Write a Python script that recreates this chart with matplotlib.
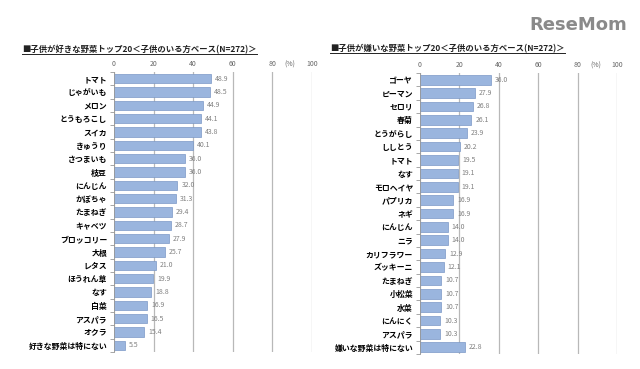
import matplotlib.pyplot as plt
from matplotlib.transforms import blended_transform_factory

plt.rcParams['font.family'] = ['Noto Sans CJK JP', 'DejaVu Sans']

like_names = ["トマト", "じゃがいも", "メロン", "とうもろこし", "スイカ", "きゅうり",
              "さつまいも", "枝豆", "にんじん", "かぼちゃ", "たまねぎ", "キャベツ",
              "ブロッコリー", "大根", "レタス", "ほうれん草", "なす", "白菜",
              "アスパラ", "オクラ", "好きな野菜は特にない"]
like_vals = [48.9, 48.5, 44.9, 44.1, 43.8, 40.1, 36.0, 36.0, 32.0, 31.3, 29.4,
             28.7, 27.9, 25.7, 21.0, 19.9, 18.8, 16.9, 16.5, 15.4, 5.5]

dislike_names = ["ゴーヤ", "ピーマン", "セロリ", "春菊", "とうがらし", "ししとう",
                 "トマト", "なす", "モロヘイヤ", "パプリカ", "ネギ", "にんじん",
                 "ニラ", "カリフラワー", "ズッキーニ", "たまねぎ", "小松菜", "水菜",
                 "にんにく", "アスパラ", "嫌いな野菜は特にない"]
dislike_vals = [36.0, 27.9, 26.8, 26.1, 23.9, 20.2, 19.5, 19.1, 19.1, 16.9, 16.9,
                14.0, 14.0, 12.9, 12.1, 10.7, 10.7, 10.7, 10.3, 10.3, 22.8]

titles = ["■子供が好きな野菜トップ20＜子供のいる方ベース(N=272)＞",
          "■子供が嫌いな野菜トップ20＜子供のいる方ベース(N=272)＞"]

fig = plt.figure(figsize=(6.4, 3.69), dpi=100)

panels = [
    (like_names, like_vals, [114 / 640, 1 - 352 / 369, 198 / 640, 280 / 369], titles[0], (22 / 640, 1 - 50 / 369)),
    (dislike_names, dislike_vals, [420 / 640, 1 - 354 / 369, 197 / 640, 281 / 369], titles[1], (330 / 640, 1 - 49 / 369)),
]

title_texts = []
for names, vals, rect, title, tpos in panels:
    ax = fig.add_axes(rect)
    y = list(range(len(names)))
    ax.barh(y, vals, height=0.72, color="#9ab5de", edgecolor="#7b98c6", linewidth=0.5)
    for yi, v in zip(y, vals):
        ax.text(v + 2, yi, f"{v:.1f}", va="center", ha="left", fontsize=5, color="#808080")
    ax.set_xlim(0, 100)
    ax.set_ylim(len(names) - 0.5, -0.5)
    ax.set_yticks(y)
    ax.set_yticklabels(names, fontsize=5.7, fontweight="bold")
    ax.set_yticks([i + 0.5 for i in range(-1, len(names))], minor=True)
    ax.tick_params(axis="y", which="major", length=0, pad=5)
    ax.tick_params(axis="y", which="minor", length=3, color="#999999", width=0.6)
    ax.xaxis.tick_top()
    ax.set_xticks([0, 20, 40, 60, 80, 100])
    ax.set_xticklabels(["0", "20", "40", "60", "80", "100"], fontsize=5, color="#666666")
    ax.tick_params(axis="x", length=0, pad=3)
    ax.grid(axis="x", color="#b8b8b8", linewidth=0.9)
    ax.set_axisbelow(True)
    for s in ["top", "right", "bottom"]:
        ax.spines[s].set_visible(False)
    ax.spines["left"].set_color("#999999")
    ax.spines["left"].set_linewidth(0.6)
    trans = blended_transform_factory(ax.transData, ax.transAxes)
    ax.text(89, 1.012, "(%)", transform=trans, fontsize=5, color="#666666",
            ha="center", va="bottom")
    title_texts.append(fig.text(tpos[0], tpos[1], title, fontsize=6.0, fontweight="bold",
                                color="#222222", ha="left", va="center"))

fig.canvas.draw()
renderer = fig.canvas.get_renderer()
for t in title_texts:
    bb = t.get_window_extent(renderer).transformed(fig.transFigure.inverted())
    fig.add_artist(plt.Line2D([bb.x0, bb.x1], [bb.y0 + 0.002, bb.y0 + 0.002],
                              transform=fig.transFigure, color="#222222", linewidth=0.7))

fig.text(0.98, 0.932, "ReseMom", fontsize=13, fontweight="bold", color="#8a8a8a",
         ha="right", va="center", family="DejaVu Sans")

fig.savefig("out.png", dpi=100, facecolor="white")
